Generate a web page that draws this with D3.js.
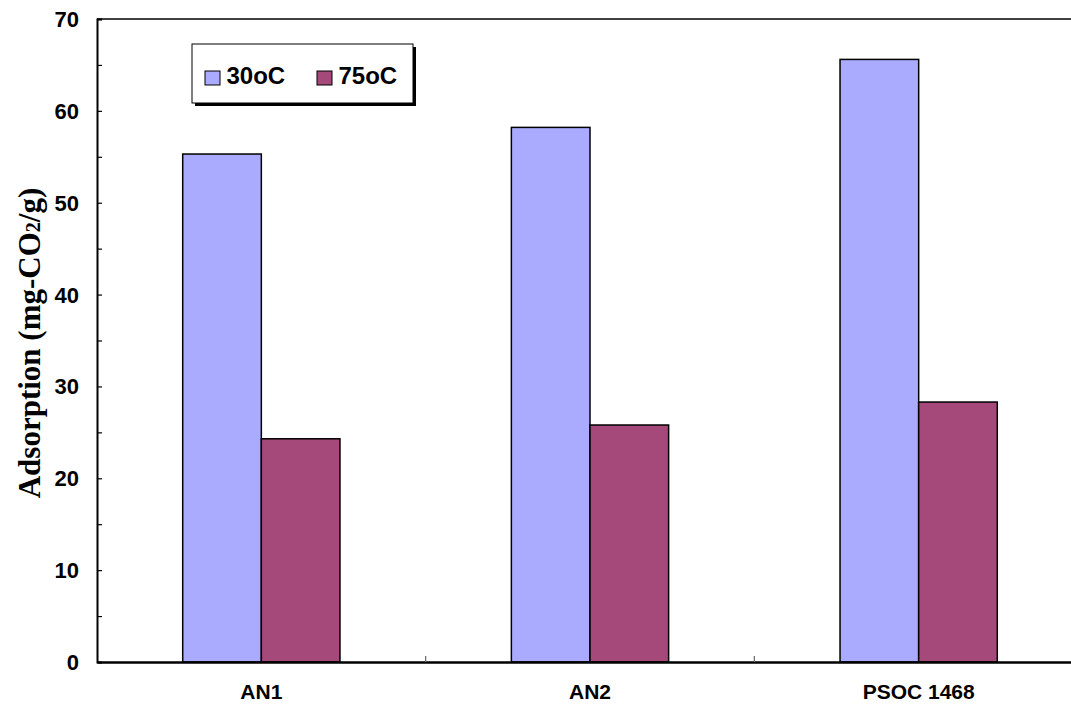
<!DOCTYPE html>
<html><head><meta charset="utf-8">
<script src="https://cdn.jsdelivr.net/npm/d3@7"></script>
<style>body{margin:0;background:#fff;} svg{display:block;}</style>
</head><body>
<svg id="c" width="1071" height="705"></svg>
<script>
const categories = ["AN1", "AN2", "PSOC 1468"];
const seriesNames = ["30oC", "75oC"];
const values30 = [55.3, 58.2, 65.6];
const values75 = [24.3, 25.8, 28.3];
const yTicks = [0, 10, 20, 30, 40, 50, 60, 70];
const colors = ["#AAAAFF", "#A5487A"];

const svg = d3.select("#c");
const L = 97, T = 19, R = 1083, B = 662;
const x = d3.scaleBand().domain(categories).range([L, R]).paddingInner(0).paddingOuter(0);
const y = d3.scaleLinear().domain([0, 70]).range([B, T]);
const series = [values30, values75];
const x1 = d3.scaleBand().domain([0, 1]).range([0, x.bandwidth()]).paddingOuter(1.09).paddingInner(0);

// bars
categories.forEach((c, i) => {
  series.forEach((s, j) => {
    svg.append("rect")
      .attr("x", x(c) + x1(j))
      .attr("y", y(s[i]))
      .attr("width", x1.bandwidth())
      .attr("height", B - y(s[i]))
      .attr("fill", colors[j])
      .attr("stroke", "#000")
      .attr("stroke-width", 1.5);
  });
});

// top frame line
svg.append("line").attr("x1", L).attr("x2", R).attr("y1", T).attr("y2", T)
  .attr("stroke", "#000").attr("stroke-width", 1.5);

// y axis
const yMinor = d3.range(0, 71, 5);
const yAxisG = svg.append("g").attr("transform", `translate(${L},0)`)
  .call(d3.axisLeft(y).tickValues(yMinor).tickSize(-5).tickFormat(""));
yAxisG.select(".domain").attr("stroke", "#000").attr("stroke-width", 2);
yAxisG.selectAll(".tick line").attr("stroke", "#000").attr("stroke-width", 1.2);
svg.selectAll(".ylab").data(yTicks).enter().append("text")
  .attr("x", 79).attr("y", d => y(d) + 8)
  .attr("text-anchor", "end")
  .attr("font-family", "Liberation Sans, Arial, sans-serif")
  .attr("font-weight", "bold").attr("font-size", 22)
  .text(d => d);

// x axis
const xAxisG = svg.append("g").attr("transform", `translate(0,${B})`)
  .call(d3.axisBottom(x).tickSize(0).tickFormat(""));
xAxisG.select(".domain").attr("stroke", "#000").attr("stroke-width", 2.5);
xAxisG.selectAll(".tick").remove();
const bounds = categories.slice(1).map(c => x(c));
svg.selectAll(".xt").data(bounds).enter().append("line")
  .attr("x1", d => d).attr("x2", d => d).attr("y1", B).attr("y2", B - 6)
  .attr("stroke", "#666").attr("stroke-width", 1.2);
svg.selectAll(".xlab").data(categories).enter().append("text")
  .attr("x", d => x(d) + x.bandwidth() / 2).attr("y", 699)
  .attr("text-anchor", "middle")
  .attr("font-family", "Liberation Sans, Arial, sans-serif")
  .attr("font-weight", "bold").attr("font-size", 21)
  .text(d => d);

// y label
const yl = svg.append("text")
  .attr("transform", "translate(40,343) rotate(-90)")
  .attr("text-anchor", "middle")
  .attr("font-family", "Liberation Serif, Times New Roman, serif")
  .attr("font-weight", "bold").attr("font-size", 31);
yl.append("tspan").text("Adsorption (mg-CO");
yl.append("tspan").attr("font-size", 20).text("2");
yl.append("tspan").text("/g)");

// legend
const lg = svg.append("g");
lg.append("rect").attr("x", 195).attr("y", 47).attr("width", 221).attr("height", 59).attr("fill", "#000");
lg.append("rect").attr("x", 192).attr("y", 44).attr("width", 221).attr("height", 59)
  .attr("fill", "#fff").attr("stroke", "#000").attr("stroke-width", 1);
const lx = [205, 317];
seriesNames.forEach((n, j) => {
  lg.append("rect").attr("x", lx[j]).attr("y", 71).attr("width", 15).attr("height", 14)
    .attr("fill", colors[j]).attr("stroke", "#000").attr("stroke-width", 1);
  lg.append("text").attr("x", lx[j] + 21.5).attr("y", 84)
    .attr("font-family", "Liberation Sans, Arial, sans-serif")
    .attr("font-weight", "bold").attr("font-size", 24)
    .text(n);
});
</script>
</body></html>
